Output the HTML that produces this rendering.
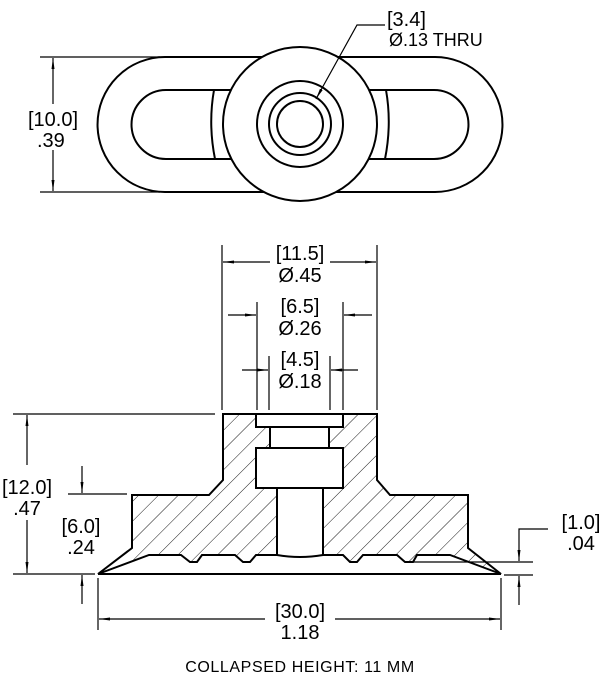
<!DOCTYPE html>
<html><head><meta charset="utf-8"><style>
html,body{margin:0;padding:0;background:#fff}
svg{display:block}
text{font-family:"Liberation Sans",sans-serif;fill:#000}
</style></head><body>
<svg width="606" height="678" viewBox="0 0 606 678" xmlns="http://www.w3.org/2000/svg">
<defs>
<pattern id="h" patternUnits="userSpaceOnUse" width="14" height="14" patternTransform="rotate(45)">
<line x1="0" y1="0" x2="0" y2="14" stroke="#000" stroke-width="0.9"/>
</pattern>
<marker id="a" markerWidth="12" markerHeight="6" refX="11" refY="3" orient="auto" markerUnits="userSpaceOnUse">
<path d="M0,1.5 L11,3 L0,4.5 Z" fill="#000"/>
</marker>
</defs>

<!-- TOP VIEW -->
<g fill="none" stroke="#000" stroke-width="2">
<path d="M165,57 H435 A67.5,67.5 0 0 1 435,192 H165 A67.5,67.5 0 0 1 165,57 Z"/>
<path d="M166,90 H434 A34.5,34.5 0 0 1 434,159 H166 A34.5,34.5 0 0 1 166,90 Z"/>
<path d="M214,90 Q208,124 215,159"/>
<path d="M386,90 Q392,124 385,159"/>
<circle cx="300" cy="124" r="77" fill="#fff"/>
<circle cx="300" cy="124" r="43"/>
<circle cx="300" cy="124" r="31"/>
<circle cx="300" cy="124" r="23"/>
</g>
<g stroke="#000" stroke-width="1.2" fill="none">
<line x1="40" y1="57" x2="160" y2="57"/>
<line x1="40" y1="192" x2="160" y2="192"/>
<line x1="53" y1="104" x2="53" y2="58" marker-end="url(#a)"/>
<line x1="53" y1="150" x2="53" y2="191" marker-end="url(#a)"/>
<polyline points="385,25 357,25 316,99" marker-end="url(#a)"/>
</g>
<text x="28" y="126" font-size="20">[10.0]</text>
<text x="37" y="147" font-size="20">.39</text>
<text x="387" y="26" font-size="20">[3.4]</text>
<text x="389" y="46" font-size="18">Ø.13 THRU</text>

<!-- SECTION VIEW -->
<g stroke="#000" stroke-width="2" fill="url(#h)" stroke-linejoin="miter">
<path d="M223,414 H256 V427 H270 V448 H256 V488 H277 V555 H256 L250,562 H243 L235,555 H202 L197,562 H190 L181,555 H149 L98,574 L132,548 V495 H209 L223,480 Z"/>
<path d="M343,414 H377 V480 L390,495 H468 V548 L501,574 L450,555 H417 L413,562 H405 L397,555 H363 L357,562 H350 L343,555 H323 V488 H343 V448 H329 V427 H343 Z"/>
</g>
<g stroke="#000" stroke-width="2" fill="none">
<line x1="256" y1="414" x2="343" y2="414"/>
<line x1="256" y1="427" x2="343" y2="427"/>
<line x1="256" y1="448" x2="343" y2="448"/>
<line x1="256" y1="488" x2="343" y2="488"/>
<path d="M277,555 Q300,559 323,555"/>
<line x1="98" y1="574" x2="501" y2="574"/>
</g>

<!-- dims -->
<g stroke="#000" stroke-width="1.2" fill="none">
<line x1="222" y1="245" x2="222" y2="410"/>
<line x1="377" y1="245" x2="377" y2="410"/>
<line x1="270" y1="262" x2="223" y2="262" marker-end="url(#a)"/>
<line x1="330" y1="262" x2="376" y2="262" marker-end="url(#a)"/>
<line x1="257" y1="302" x2="257" y2="410"/>
<line x1="343" y1="302" x2="343" y2="410"/>
<line x1="228" y1="315" x2="256" y2="315" marker-end="url(#a)"/>
<line x1="372" y1="315" x2="344" y2="315" marker-end="url(#a)"/>
<line x1="269" y1="356" x2="269" y2="410"/>
<line x1="330" y1="356" x2="330" y2="410"/>
<line x1="242" y1="370" x2="268" y2="370" marker-end="url(#a)"/>
<line x1="358" y1="370" x2="331" y2="370" marker-end="url(#a)"/>

<line x1="13" y1="414" x2="215" y2="414"/>
<line x1="13" y1="574" x2="95" y2="574"/>
<line x1="27" y1="465" x2="27" y2="415" marker-end="url(#a)"/>
<line x1="27" y1="520" x2="27" y2="573" marker-end="url(#a)"/>
<line x1="68" y1="494" x2="127" y2="494"/>
<line x1="82" y1="466" x2="82" y2="493" marker-end="url(#a)"/>
<line x1="82" y1="604" x2="82" y2="575" marker-end="url(#a)"/>

<line x1="98" y1="578" x2="98" y2="630"/>
<line x1="501" y1="578" x2="501" y2="630"/>
<line x1="265" y1="619" x2="99" y2="619" marker-end="url(#a)"/>
<line x1="335" y1="619" x2="500" y2="619" marker-end="url(#a)"/>

<line x1="405" y1="562" x2="533" y2="562"/>
<line x1="504" y1="575" x2="533" y2="575"/>
<polyline points="548,529 519,529 519,561" marker-end="url(#a)"/>
<line x1="519" y1="605" x2="519" y2="576" marker-end="url(#a)"/>
</g>
<g font-size="20" text-anchor="middle">
<text x="300" y="260">[11.5]</text>
<text x="300" y="282">Ø.45</text>
<text x="300" y="313">[6.5]</text>
<text x="300" y="335">Ø.26</text>
<text x="300" y="366">[4.5]</text>
<text x="300" y="388">Ø.18</text>
<text x="27" y="494">[12.0]</text>
<text x="27" y="515">.47</text>
<text x="81" y="533">[6.0]</text>
<text x="81" y="554">.24</text>
<text x="581" y="529">[1.0]</text>
<text x="581" y="550">.04</text>
<text x="300" y="618">[30.0]</text>
<text x="300" y="639">1.18</text>
</g>
<text x="300" y="672" font-size="16" text-anchor="middle" letter-spacing="0.6">COLLAPSED HEIGHT: 11 MM</text>
</svg>
</body></html>
